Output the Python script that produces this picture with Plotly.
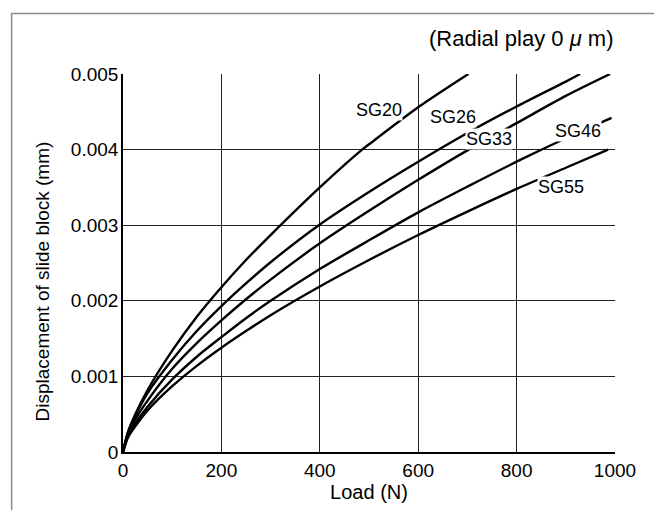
import plotly.graph_objects as go

# Load (N) sample points and displacement values (mm)
load_sg20 = [0, 10, 25, 50, 100, 150, 200, 250, 300, 400, 486, 500, 600, 702]
disp_sg20 = [0, 0.00026, 0.0005, 0.00082, 0.00134, 0.00179, 0.00218, 0.00254, 0.00287, 0.0035, 0.004, 0.00407, 0.00456, 0.005]

load_sg26 = [0, 10, 25, 50, 100, 150, 200, 250, 300, 400, 500, 600, 700, 800, 900, 929]
disp_sg26 = [0, 0.00026, 0.00048, 0.00078, 0.00122, 0.0016, 0.00193, 0.00223, 0.00251, 0.00301, 0.00344, 0.00384, 0.00422, 0.00457, 0.0049, 0.005]

load_sg33 = [0, 10, 25, 50, 100, 150, 200, 250, 300, 400, 500, 600, 700, 800, 900, 990]
disp_sg33 = [0, 0.00022, 0.00043, 0.00068, 0.0011, 0.00144, 0.00174, 0.00202, 0.00228, 0.00276, 0.00319, 0.0036, 0.00399, 0.00435, 0.00471, 0.005]

load_sg46 = [0, 10, 25, 50, 100, 150, 200, 250, 300, 400, 500, 600, 700, 800, 900, 993]
disp_sg46 = [0, 0.00021, 0.00038, 0.0006, 0.00096, 0.00126, 0.00152, 0.00177, 0.002, 0.00242, 0.0028, 0.00317, 0.00351, 0.00384, 0.00415, 0.00442]

load_sg55 = [0, 10, 25, 50, 100, 150, 200, 250, 300, 400, 500, 600, 700, 800, 900, 986]
disp_sg55 = [0, 0.00019, 0.00034, 0.00055, 0.00087, 0.00114, 0.00138, 0.0016, 0.00181, 0.00219, 0.00254, 0.00287, 0.00318, 0.00348, 0.00376, 0.004]

series_names = ["SG20", "SG26", "SG33", "SG46", "SG55"]
series_loads = [load_sg20, load_sg26, load_sg33, load_sg46, load_sg55]
series_disps = [disp_sg20, disp_sg26, disp_sg33, disp_sg46, disp_sg55]

# label anchor positions (data coords)
label_x = [521, 670, 744, 924, 890]
label_y = [0.00453, 0.00443, 0.00414, 0.00425, 0.00351]

x_ticks = [0, 200, 400, 600, 800, 1000]
y_ticks = [0, 0.001, 0.002, 0.003, 0.004, 0.005]
y_tick_text = ["0", "0.001", "0.002", "0.003", "0.004", "0.005"]

NARROW = "Liberation Sans Narrow, Arial Narrow, Liberation Sans, Arial, sans-serif"
REG = "Liberation Sans, Arial, sans-serif"

fig = go.Figure()
for name, xs, ys in zip(series_names, series_loads, series_disps):
    fig.add_trace(go.Scatter(x=xs, y=ys, mode="lines", name=name,
                             line=dict(color="black", width=2.4, shape="spline", smoothing=0.8),
                             showlegend=False, hoverinfo="skip"))

for name, lx, ly in zip(series_names, label_x, label_y):
    fig.add_annotation(x=lx, y=ly, text=name, showarrow=False, xref="x", yref="y",
                       font=dict(family=NARROW, size=18, color="black"),
                       bgcolor="white", borderpad=0)

fig.add_annotation(x=1000, y=1.0, xref="x", yref="paper", xanchor="right", yanchor="bottom",
                   yshift=21, text="(Radial play 0 <i>μ</i> m)", showarrow=False,
                   font=dict(family=REG, size=22, color="black"))

# y-axis title placed as rotated text
fig.add_annotation(x=-0.1635, y=0.45, xref="paper", yref="paper", xanchor="center", yanchor="middle",
                   text="Displacement of slide block (mm)", textangle=-90, showarrow=False,
                   font=dict(family=REG, size=19, color="black"))

# outer frame (extends past right and bottom edges)
fig.add_shape(type="rect", xref="paper", yref="paper",
              x0=-0.2264, y0=-0.3, x1=1.2, y1=1.1598,
              line=dict(color="#8a8a8a", width=1.5), layer="below")

axis_common = dict(showgrid=True, gridcolor="#222222", gridwidth=1, zeroline=False,
                   showline=True, linecolor="black", linewidth=1.6, mirror=False,
                   ticks="", tickfont=dict(family=NARROW, size=19, color="black"))

fig.update_xaxes(range=[0, 1000], tickvals=x_ticks, ticktext=[str(v) for v in x_ticks],
                 title=dict(text="Load (N)", font=dict(family=REG, size=20, color="black"), standoff=0),
                 **axis_common)
fig.update_yaxes(range=[0, 0.005], tickvals=y_ticks, ticktext=y_tick_text,
                 ticklabelstandoff=-1,
                 **axis_common)

fig.update_layout(width=654, height=502,
                  margin=dict(l=114.5, r=47, t=65.5, b=58, autoexpand=False),
                  paper_bgcolor="white", plot_bgcolor="white")

fig.write_html("out.html")
